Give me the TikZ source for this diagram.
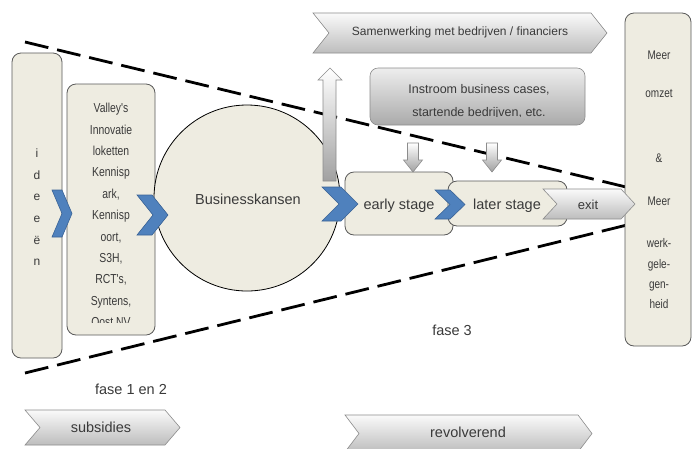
\documentclass[tikz,border=0pt]{standalone}
\usepackage{fontspec}
\setmainfont{Liberation Sans}
\newfontfamily\narrowsans[FakeStretch=0.8]{Liberation Sans}
\definecolor{beigefill}{HTML}{EEECE1}
\definecolor{boxline}{HTML}{595959}
\definecolor{textgray}{HTML}{3A3A3A}
\definecolor{chevblue}{HTML}{4F81BD}
\definecolor{chevblueline}{HTML}{3A6396}
\definecolor{grayA}{HTML}{FAFAFA}
\definecolor{grayB}{HTML}{BDBDBD}
\definecolor{grayline}{HTML}{8C8C8C}
\newcommand\mychev[6]{\path[#1] (#2,#3) -- ({#4-#6},#3) -- (#4,{(#3+#5)/2}) -- ({#4-#6},#5) -- (#2,#5) -- ({#2+#6},{(#3+#5)/2}) -- cycle;}
\begin{document}
\begin{tikzpicture}[x=1pt,y=-1pt,
  txt/.style={inner sep=0pt, text=textgray, text height=0.72em, text depth=0.2em},
  beige/.style={draw=boxline, fill=beigefill, line width=0.8pt, rounded corners=9pt, inner sep=0pt, outer sep=0pt},
  bluechev/.style={fill=chevblue, draw=chevblueline, line width=0.6pt},
  graychev/.style={top color=grayA, bottom color=grayB, draw=grayline, line width=0.6pt},
  grayarrow/.style={top color=white, bottom color=grayB!85!black, draw=grayline, line width=0.6pt},
  dashline/.style={line width=2.8pt, dash pattern=on 24pt off 9pt},
]
\path[use as bounding box, fill=white] (0,0) rectangle (693,448);

% dashed funnel
\coordinate (t1) at (25,42);
\coordinate (t2) at (626,187);
\coordinate (b1) at (25,373);
\coordinate (b2) at (627,225);
\draw[dashline] (t1) -- (t2);
\draw[dashline] (b1) -- (b2);

% boxes
\node[beige, minimum width=50pt, minimum height=305pt] (ideeen) at (37,205.5) {};
\node[beige, minimum width=88pt, minimum height=251pt] (valley) at (111,209.5) {};
\node[circle, draw=black, fill=beigefill, line width=0.8pt, minimum size=186pt, inner sep=0pt] (bk) at (247,198) {};
\node[beige, minimum width=66pt, minimum height=333pt] (result) at (658,179.5) {};
\node[beige, minimum width=108pt, minimum height=63pt] (early) at (399,203.5) {};
\node[beige, minimum width=119pt, minimum height=45pt] (later) at (507.5,203.5) {};
\node[top color=grayA!95!black, bottom color=grayB!90!black, draw=grayline, line width=0.6pt, rounded corners=8pt, minimum width=215pt, minimum height=57pt, inner sep=0pt] (instroom) at (477.5,96.5) {};

% gray chevrons
\mychev{graychev}{313}{13}{607}{53}{16}
\mychev{graychev}{25}{410}{180}{445}{15}
\mychev{graychev}{345}{415}{592}{452}{14}
\mychev{graychev}{543}{189}{635}{219}{14}

% blue chevrons
\mychev{bluechev}{52}{190}{72}{237}{10}
\mychev{bluechev}{137}{195}{168}{235}{16}
\mychev{bluechev}{322}{187}{358}{221}{17}
\mychev{bluechev}{435}{190}{465}{219}{15}

% arrows
\path[grayarrow] (323,181) -- (323,80) -- (318,80) -- (330,68) -- (342,80) -- (336,80) -- (336,181) -- cycle;
\foreach \c in {413,492}
  \path[grayarrow] ({\c-5.5},143) -- ({\c+5.5},143) -- ({\c+5.5},160) -- ({\c+9.5},160) -- (\c,172) -- ({\c-9.5},160) -- ({\c-5.5},160) -- cycle;

% texts
\foreach \t [count=\i] in {i,d,e,e,ë,n}
  \node[txt, font=\fontsize{12}{14}\selectfont] (id\i) at (37,{155+21.6*(\i-1)}) {\t};

\begin{scope}
\clip (68,86) rectangle (154,322);
\foreach \t [count=\i] in {Valley's,Innovatie,loketten,Kennisp,{ark,},Kennisp,{oort,},{S3H,},{RCT's,},{Syntens,},Oost NV}
  \node[txt, font=\narrowsans\fontsize{13}{15}\selectfont] (val\i) at (111,{110+21.4*(\i-1)}) {\t};
\end{scope}

\node[txt, font=\fontsize{14.5}{17}\selectfont] (bktxt) at (248,202) {Businesskansen};
\node[txt, font=\fontsize{14.5}{17}\selectfont] (earlytxt) at (399,207) {early stage};
\node[txt, font=\fontsize{14.5}{17}\selectfont] (latertxt) at (507,207) {later stage};
\node[txt, font=\fontsize{13}{15}\selectfont] (exittxt) at (588,207) {exit};
\node[txt, font=\fontsize{12}{14}\selectfont] (samtxt) at (460,33) {Samenwerking met bedrijven / financiers};

\node[txt, font=\fontsize{12.5}{15}\selectfont] (in1) at (479,91) {Instroom business cases,};
\begin{scope}
\clip (371,69) rectangle (584,116);
\node[txt, font=\fontsize{12.5}{15}\selectfont] (in2) at (479,114) {startende bedrijven, etc.};
\end{scope}

\foreach \t/\yy [count=\i] in {Meer/57,omzet/95,\&/160,Meer/203,werk-/245,gele-/266,gen-/286,heid/306}
  \node[txt, font=\narrowsans\fontsize{12.5}{15}\selectfont] (res\i) at (659,\yy) {\t};

\node[txt, font=\fontsize{14.5}{17}\selectfont] (fase12) at (131,392) {fase 1 en 2};
\node[txt, font=\fontsize{14.5}{17}\selectfont] (fase3) at (452,333) {fase 3};
\node[txt, font=\fontsize{14.5}{17}\selectfont] (subs) at (101,430) {subsidies};
\node[txt, font=\fontsize{14.5}{17}\selectfont] (revol) at (468,435) {revolverend};
\end{tikzpicture}
\end{document}
